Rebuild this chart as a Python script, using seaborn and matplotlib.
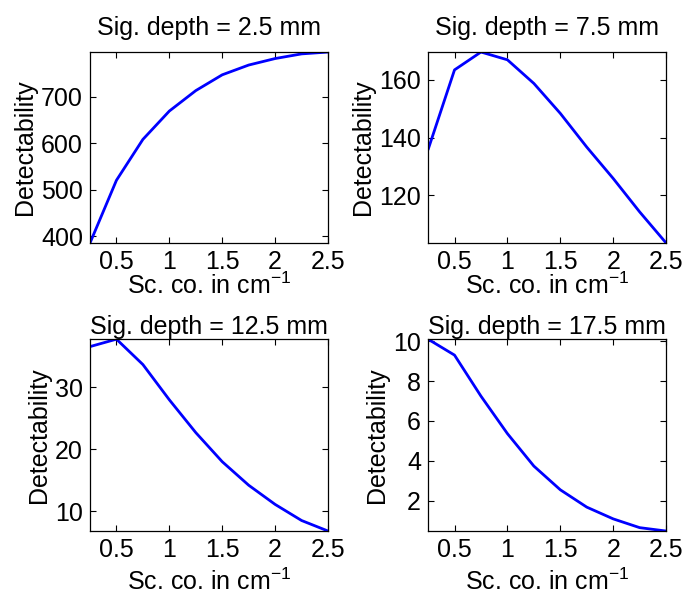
import seaborn as sns
import matplotlib.pyplot as plt
import pandas as pd

# scattering coefficient (cm^-1)
sc_co = [0.25, 0.5, 0.75, 1.0, 1.25, 1.5, 1.75, 2.0, 2.25, 2.5]

# detectability for each signal depth
det_2_5 = [385, 520, 608, 669, 713, 747, 768, 782, 792, 796]
det_7_5 = [135.8, 163.5, 169.7, 167.0, 158.8, 148.4, 136.7, 125.8, 114.2, 103.4]
det_12_5 = [36.6, 37.8, 33.7, 28.0, 22.7, 18.0, 14.2, 11.1, 8.5, 6.8]
det_17_5 = [10.1, 9.3, 7.24, 5.36, 3.73, 2.54, 1.67, 1.08, 0.64, 0.47]

depths = ['2.5', '7.5', '12.5', '17.5']
series = [det_2_5, det_7_5, det_12_5, det_17_5]
yticks = [[400, 500, 600, 700], [120, 140, 160], [10, 20, 30], [2, 4, 6, 8, 10]]
xticks = [0.5, 1, 1.5, 2, 2.5]
xtick_labels = ['0.5', '1', '1.5', '2', '2.5']

sns.set_style('ticks')
plt.rcParams['font.family'] = ['Liberation Sans', 'DejaVu Sans']
plt.rcParams['text.color'] = 'black'
plt.rcParams['axes.labelcolor'] = 'black'
plt.rcParams['mathtext.fontset'] = 'custom'
plt.rcParams['mathtext.rm'] = 'Liberation Sans'
plt.rcParams['mathtext.it'] = 'Liberation Sans'

fig = plt.figure(figsize=(6.86, 5.94), dpi=100)
positions = [
    [0.1312, 0.5909, 0.347, 0.3215],
    [0.624, 0.5909, 0.347, 0.3215],
    [0.1312, 0.106, 0.347, 0.323],
    [0.624, 0.106, 0.347, 0.323],
]
title_pads = [12, 12, 4, 4]
xlabel_pads = [-1, -1, 4.5, 4.5]

for pos, depth, vals, yt, tp, lp in zip(positions, depths, series, yticks,
                                         title_pads, xlabel_pads):
    ax = fig.add_axes(pos)
    df = pd.DataFrame({'x': sc_co, 'y': vals})
    sns.lineplot(data=df, x='x', y='y', ax=ax, color='#0000ff', linewidth=2.0)
    ax.set_xlim(sc_co[0], sc_co[-1])
    ax.set_ylim(min(vals), max(vals))
    ax.set_xticks(xticks)
    ax.set_xticklabels(xtick_labels)
    ax.set_yticks(yt)
    ax.tick_params(direction='in', top=True, right=True, length=4, width=0.8,
                   labelsize=18, pad=5, colors='black')
    for s in ax.spines.values():
        s.set_linewidth(0.9)
        s.set_color('black')
    ax.set_title(f'Sig. depth = {depth} mm', fontsize=18, pad=tp)
    ax.set_xlabel(r'Sc. co. in cm$^{-1}$', fontsize=18, labelpad=lp)
    ax.set_ylabel('Detectability', fontsize=18, labelpad=3)

fig.savefig('out.png', dpi=100, facecolor='white')
